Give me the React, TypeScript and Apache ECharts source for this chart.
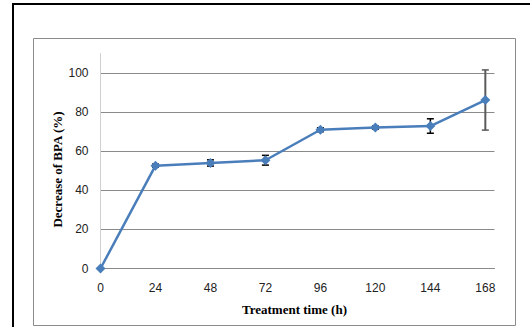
import React, { useEffect, useRef } from "react";
import * as echarts from "echarts";

const hours = [0, 24, 48, 72, 96, 120, 144, 168];
const bpaDecrease = [0, 52.6, 54.0, 55.4, 71.0, 72.1, 72.9, 86.2];
const errors = [0, 0.8, 1.6, 2.5, 1.0, 0.8, 3.7, 15.4];
const yTicks = [0, 20, 40, 60, 80, 100];
const xTitle = "Treatment time (h)";
const yTitle = "Decrease of BPA (%)";

export default function App() {
  const ref = useRef<HTMLDivElement>(null);
  useEffect(() => {
    if (!ref.current) return;
    const chart = echarts.init(ref.current, null, { renderer: "svg" });
    const lineData = hours.map((h, i) => [h, bpaDecrease[i]]);
    const errData = hours.map((h, i) => [h, bpaDecrease[i] - errors[i], bpaDecrease[i] + errors[i], i]);
    const gridColors = yTicks.map(() => "#8a8a8a").concat(["rgba(0,0,0,0)"]);
    chart.setOption({
      animation: false,
      backgroundColor: "#ffffff",
      graphic: [
        { type: "line", shape: { x1: 13, y1: 3, x2: 13, y2: 327 }, style: { stroke: "#000", lineWidth: 2 } },
        { type: "line", shape: { x1: 12, y1: 4, x2: 530, y2: 4 }, style: { stroke: "#000", lineWidth: 2 } },
        { type: "rect", shape: { x: 33.5, y: 38.5, width: 482, height: 287 }, style: { fill: "none", stroke: "#8c8c8c", lineWidth: 1 } },
      ],
      grid: { left: 100.5, top: 53.5, right: 35.5, bottom: 58.5 },
      xAxis: {
        type: "value",
        min: 0,
        max: 172,
        interval: 24,
        name: xTitle,
        nameLocation: "middle",
        nameGap: 34,
        nameMoveOverlap: false,
        nameTextStyle: { fontFamily: "Liberation Serif", fontWeight: "bold", fontSize: 13, color: "#000", padding: [0, 6, 0, 0] },
        axisLine: { show: true, lineStyle: { color: "#8a8a8a", width: 1 } },
        axisTick: { show: false },
        splitLine: { show: false },
        axisLabel: { showMaxLabel: false, margin: 13, fontFamily: "Liberation Sans", fontSize: 12, color: "#222" },
      },
      yAxis: {
        type: "value",
        min: 0,
        max: 110,
        interval: 20,
        name: yTitle,
        nameLocation: "middle",
        nameGap: 37,
        nameMoveOverlap: false,
        nameTextStyle: { fontFamily: "Liberation Serif", fontWeight: "bold", fontSize: 13, color: "#000", padding: [0, 17, 0, 0] },
        axisLine: { show: true, lineStyle: { color: "#d0d0d0", width: 1 } },
        axisTick: { show: false },
        splitLine: { show: true, lineStyle: { color: gridColors, width: 1 } },
        axisLabel: { showMaxLabel: false, margin: 12, fontFamily: "Liberation Sans", fontSize: 12, color: "#222" },
      },
      series: [
        {
          type: "custom",
          z: 1,
          data: errData,
          renderItem: (params: any, api: any) => {
            const x = api.value(0);
            const lo = api.coord([x, api.value(1)]);
            const hi = api.coord([x, api.value(2)]);
            const idx = api.value(3);
            const color = idx === hours.length - 1 ? "#5a5a5a" : "#000";
            const w = 3.5;
            const lw = idx === hours.length - 1 ? 2 : 1.5;
            return {
              type: "group",
              children: [
                { type: "line", shape: { x1: lo[0], y1: lo[1], x2: hi[0], y2: hi[1] }, style: { stroke: color, lineWidth: lw } },
                { type: "line", shape: { x1: lo[0] - w, y1: lo[1], x2: lo[0] + w, y2: lo[1] }, style: { stroke: color, lineWidth: 1.5 } },
                { type: "line", shape: { x1: hi[0] - w, y1: hi[1], x2: hi[0] + w, y2: hi[1] }, style: { stroke: color, lineWidth: 1.5 } },
              ],
            };
          },
        },
        {
          type: "line",
          z: 3,
          data: lineData,
          symbol: "diamond",
          symbolSize: 10,
          lineStyle: { color: "#4a7ebb", width: 2.5 },
          itemStyle: { color: "#4a7ebb" },
        },
      ],
    });
    return () => chart.dispose();
  }, []);
  return <div ref={ref} style={{ position: "fixed", left: 0, top: 0, width: 530, height: 327 }} />;
}
